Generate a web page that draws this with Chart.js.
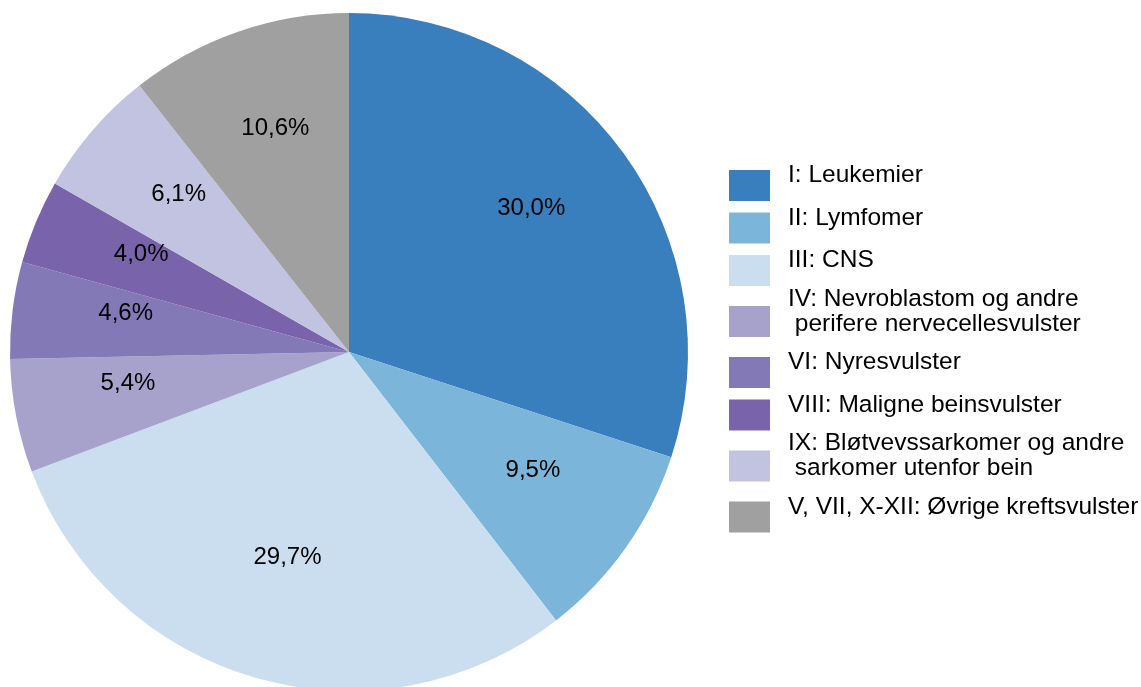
<!DOCTYPE html>
<html>
<head>
<meta charset="utf-8">
<script src="https://cdn.jsdelivr.net/npm/chart.js@4/dist/chart.umd.min.js"></script>
<style>
  html, body { margin: 0; padding: 0; background: #fff; }
  #chart { display: block; }
</style>
</head>
<body>
<canvas id="chart" width="1141" height="687"></canvas>
<script>
const categories = [
    ['I: Leukemier'],
    ['II: Lymfomer'],
    ['III: CNS'],
    ['IV: Nevroblastom og andre', ' perifere nervecellesvulster'],
    ['VI: Nyresvulster'],
    ['VIII: Maligne beinsvulster'],
    ['IX: Bløtvevssarkomer og andre', ' sarkomer utenfor bein'],
    ['V, VII, X-XII: Øvrige kreftsvulster']
];
const shares = [30.0, 9.5, 29.7, 5.4, 4.6, 4.0, 6.1, 10.6];
const colors = ['#3a7fbd', '#7bb5da', '#cbdef0', '#a7a2cc', '#8379b7', '#7963ab', '#c2c3e0', '#a0a0a0'];

const FONT = '24px "Liberation Sans", Arial, sans-serif';
const LEGEND_FONT = '24.5px "Liberation Sans", Arial, sans-serif';

function pct(v) {
    return v.toFixed(1).replace('.', ',') + '%';
}

// percentage labels inside each slice
const sliceLabels = {
    id: 'sliceLabels',
    afterDatasetsDraw(chart) {
        const ctx = chart.ctx;
        const arcs = chart.getDatasetMeta(0).data;
        ctx.save();
        ctx.font = FONT;
        ctx.fillStyle = '#000';
        ctx.textAlign = 'center';
        ctx.textBaseline = 'middle';
        arcs.forEach((arc, i) => {
            const mid = (arc.startAngle + arc.endAngle) / 2;
            const r = arc.outerRadius * 0.664;
            const x = arc.x + Math.cos(mid) * r;
            const y = arc.y + Math.sin(mid) * r - 11;
            ctx.fillText(pct(shares[i]), x, y);
        });
        ctx.restore();
    }
};

// legend on the right, with two-line entries
const sideLegend = {
    id: 'sideLegend',
    afterDraw(chart) {
        const ctx = chart.ctx;
        ctx.save();
        ctx.font = LEGEND_FONT;
        ctx.textBaseline = 'alphabetic';
        ctx.textAlign = 'left';
        let top = 164.25;
        categories.forEach((lines, i) => {
            const h = 42.5 + 17 * (lines.length - 1);
            const cy = top + h / 2;
            ctx.fillStyle = colors[i];
            ctx.fillRect(729, cy - 15.5, 41, 31);
            ctx.fillStyle = '#000';
            let base = cy - 12 + 8.5 - (lines.length - 1) * 12.5;
            lines.forEach(line => {
                ctx.fillText(line, 788, base);
                base += 25;
            });
            top += h;
        });
        ctx.restore();
    }
};

new Chart(document.getElementById('chart'), {
    type: 'pie',
    data: {
        labels: categories.map(l => l.join('')),
        datasets: [{
            data: shares,
            backgroundColor: colors,
            borderWidth: 0
        }]
    },
    options: {
        responsive: false,
        animation: false,
        radius: 339,
        layout: { padding: { left: 10, right: 453, top: 17, bottom: 0 } },
        plugins: {
            legend: { display: false },
            tooltip: { enabled: false }
        }
    },
    plugins: [sliceLabels, sideLegend]
});
</script>
</body>
</html>
